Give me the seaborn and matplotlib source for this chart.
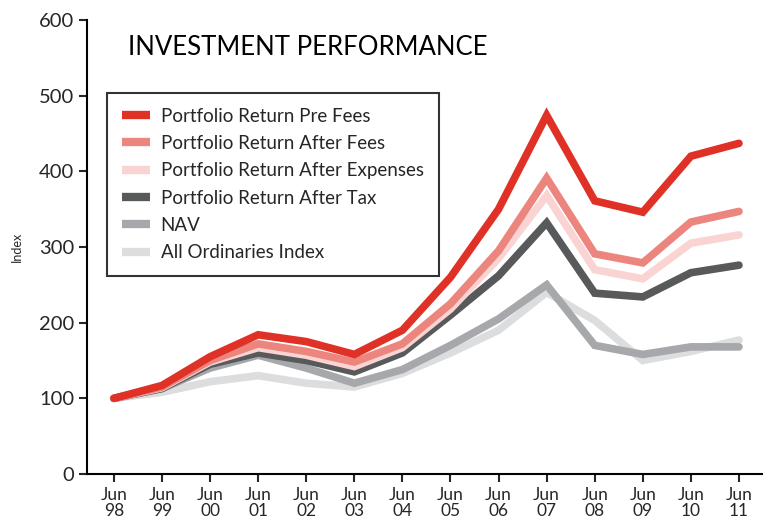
import matplotlib
matplotlib.use("Agg")
import matplotlib.pyplot as plt
import seaborn as sns
import pandas as pd

# chart data
periods = ["Jun\n98", "Jun\n99", "Jun\n00", "Jun\n01", "Jun\n02", "Jun\n03", "Jun\n04",
           "Jun\n05", "Jun\n06", "Jun\n07", "Jun\n08", "Jun\n09", "Jun\n10", "Jun\n11"]
pre_fees = [100, 117, 155, 184, 175, 158, 190, 260, 350, 474, 361, 346, 420, 437]
after_fees = [100, 115, 150, 172, 162, 148, 172, 225, 295, 391, 291, 279, 333, 347]
after_expenses = [100, 114, 148, 167, 157, 142, 167, 218, 285, 368, 270, 258, 305, 316]
after_tax = [100, 113, 145, 160, 150, 135, 160, 210, 262, 332, 239, 234, 266, 276]
nav = [100, 113, 140, 157, 140, 120, 138, 170, 205, 250, 170, 158, 168, 168]
all_ords = [100, 108, 122, 130, 120, 115, 133, 160, 190, 240, 203, 150, 162, 177]

series_names = ["Portfolio Return Pre Fees", "Portfolio Return After Fees",
                "Portfolio Return After Expenses", "Portfolio Return After Tax",
                "NAV", "All Ordinaries Index"]
series_values = [pre_fees, after_fees, after_expenses, after_tax, nav, all_ords]
colors = ["#E03127", "#EC857D", "#F9D4D2", "#58595B", "#A7A8AB", "#DCDDDE"]

rows = []
for name, vals in zip(series_names, series_values):
    for i, v in enumerate(vals):
        rows.append({"series": name, "x": i, "value": v})
df = pd.DataFrame(rows)

sns.set_style("ticks")
plt.rcParams["font.family"] = ["Lato", "DejaVu Sans"]

fig = plt.figure(figsize=(7.63, 5.24), dpi=100)
ax = fig.add_axes([87 / 763, 50 / 524, 676 / 763, 454 / 524])

# draw back to front so the red line sits on top
for name, col in reversed(list(zip(series_names, colors))):
    sns.lineplot(data=df[df["series"] == name], x="x", y="value", color=col,
                 linewidth=5.5, ax=ax, label=name, solid_joinstyle="miter")

ax.set_xlim(-0.56, 13.5)
ax.set_ylim(0, 600)
ax.set_xticks(range(len(periods)))
ax.set_xticklabels(periods, fontsize=12.5, linespacing=1.0)
ax.set_yticks(range(0, 601, 100))
ax.tick_params(axis="y", labelsize=14.5, length=6, width=1.5, pad=3)
ax.tick_params(axis="x", length=6, width=1.5, pad=3)
ax.set_xlabel("")
ax.set_ylabel("Index", fontsize=9, labelpad=12)
for s in ["top", "right"]:
    ax.spines[s].set_visible(False)
for s in ["left", "bottom"]:
    ax.spines[s].set_linewidth(1.5)
    ax.spines[s].set_color("black")

ax.text(0.06, 0.94, "INVESTMENT PERFORMANCE", transform=ax.transAxes,
        fontsize=18.5, color="black", va="center", ha="left")

handles, labels = ax.get_legend_handles_labels()
order = [labels.index(n) for n in series_names]
leg = ax.legend([handles[i] for i in order], [labels[i] for i in order],
                loc="upper left", bbox_to_anchor=(0.03, 0.84), fontsize=13.5,
                frameon=True, fancybox=False, edgecolor="black",
                handlelength=1.5, handletextpad=0.55, labelspacing=0.55,
                borderpad=0.8, borderaxespad=0)
leg.get_frame().set_linewidth(1.5)
for line in leg.get_lines():
    line.set_linewidth(6)
    line.set_solid_capstyle("butt")

fig.savefig("out.png", dpi=100)
